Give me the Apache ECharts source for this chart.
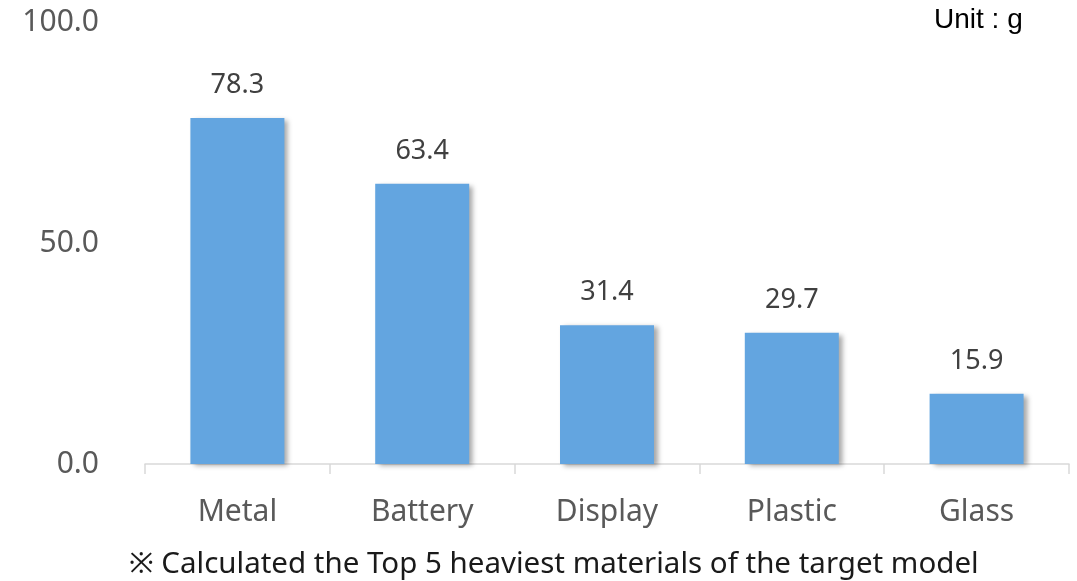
<!DOCTYPE html>
<html>
<head>
<meta charset="utf-8">
<script src="https://cdn.jsdelivr.net/npm/echarts@6/dist/echarts.min.js"></script>
<style>
  html, body { margin: 0; padding: 0; background: #fff; }
  #chart { width: 1077px; height: 581px; }
</style>
</head>
<body>
<div id="chart"></div>
<script>
// Top 5 heaviest materials (grams)
const categories = ['Metal', 'Battery', 'Display', 'Plastic', 'Glass'];
const weights = [78.3, 63.4, 31.4, 29.7, 15.9];
const yTicks = [0, 50, 100];

const FONT = '"Noto Sans", "Open Sans", sans-serif';

const chart = echarts.init(document.getElementById('chart'));
chart.setOption({
  animation: false,
  grid: { left: 145, right: 8, top: 22, bottom: 117 },
  xAxis: {
    type: 'category',
    data: categories,
    axisLine: { lineStyle: { color: '#d9d9d9', width: 1.5 } },
    axisTick: { show: true, length: 10, lineStyle: { color: '#d9d9d9', width: 1.5 } },
    axisLabel: { color: '#595959', fontFamily: FONT, fontSize: 30, margin: 33 }
  },
  yAxis: {
    type: 'value',
    min: yTicks[0],
    max: yTicks[yTicks.length - 1],
    interval: yTicks[1] - yTicks[0],
    splitLine: { show: false },
    axisLine: { show: false },
    axisTick: { show: false },
    axisLabel: {
      color: '#595959', fontFamily: FONT, fontSize: 30, margin: 46,
      formatter: v => v.toFixed(1)
    }
  },
  series: [{
    type: 'bar',
    data: weights,
    barWidth: 94,
    itemStyle: {
      color: '#63a5e0',
      shadowColor: 'rgba(0,0,0,0.35)',
      shadowBlur: 5,
      shadowOffsetX: 4,
      shadowOffsetY: 2
    },
    label: {
      show: true,
      position: 'top',
      distance: 19,
      color: '#404040',
      fontFamily: FONT,
      fontSize: 27,
      formatter: p => p.value.toFixed(1)
    }
  }],
  graphic: [
    {
      type: 'text',
      left: 934, top: 6,
      style: { text: 'Unit : g', font: '28px "Liberation Sans", Arial, sans-serif', fill: '#000' }
    },
    {
      type: 'text',
      left: 129, top: 550,
      style: {
        text: '※ Calculated the Top 5 heaviest materials of the target model',
        font: '29.5px ' + FONT, fill: '#1a1a1a'
      }
    }
  ]
});
</script>
</body>
</html>
